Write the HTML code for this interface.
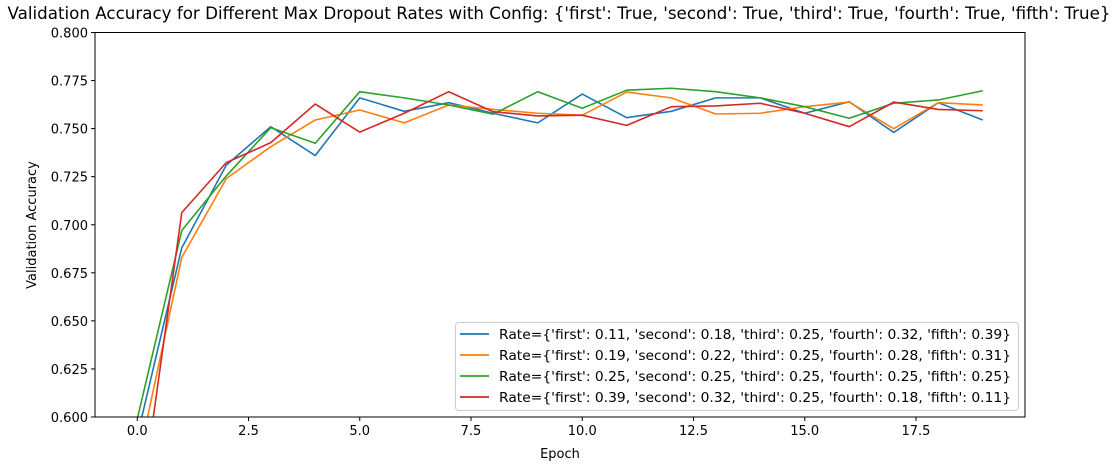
<!DOCTYPE html>
<html><head><meta charset="utf-8"><style>
html,body{margin:0;padding:0;background:#fff;width:1119px;height:470px;overflow:hidden;}
svg{display:block;font-family:"DejaVu Sans","Liberation Sans",sans-serif;}
</style></head><body>
<svg id="chart" width="1119" height="470" viewBox="0 0 1119 470" xmlns="http://www.w3.org/2000/svg"></svg>
<script>
const epochs = [0,1,2,3,4,5,6,7,8,9,10,11,12,13,14,15,16,17,18,19];
const seriesBlue = [0.590,0.688,0.731,0.751,0.736,0.766,0.759,0.7635,0.758,0.753,0.768,0.7557,0.759,0.766,0.766,0.758,0.764,0.748,0.7635,0.7545];
const seriesOrange = [0.575,0.683,0.724,0.7406,0.7545,0.7597,0.753,0.7623,0.760,0.758,0.757,0.769,0.766,0.7576,0.758,0.7614,0.7638,0.750,0.7635,0.7623];
const seriesGreen = [0.599,0.697,0.7254,0.7505,0.7424,0.7692,0.766,0.7623,0.7575,0.7692,0.7606,0.770,0.771,0.7692,0.766,0.7614,0.7554,0.7632,0.7649,0.7697];
const seriesRed = [0.540,0.7063,0.7323,0.7427,0.7628,0.7482,0.758,0.7692,0.7588,0.7566,0.757,0.7517,0.7614,0.7618,0.7632,0.758,0.751,0.7638,0.760,0.7593];
const xTicks = [0,2.5,5,7.5,10,12.5,15,17.5];
const xTickLabels = ["0.0","2.5","5.0","7.5","10.0","12.5","15.0","17.5"];
const yTicks = [0.6,0.625,0.65,0.675,0.7,0.725,0.75,0.775,0.8];
const yTickLabels = ["0.600","0.625","0.650","0.675","0.700","0.725","0.750","0.775","0.800"];
const legendLabels = [
"Rate={'first': 0.11, 'second': 0.18, 'third': 0.25, 'fourth': 0.32, 'fifth': 0.39}",
"Rate={'first': 0.19, 'second': 0.22, 'third': 0.25, 'fourth': 0.28, 'fifth': 0.31}",
"Rate={'first': 0.25, 'second': 0.25, 'third': 0.25, 'fourth': 0.25, 'fifth': 0.25}",
"Rate={'first': 0.39, 'second': 0.32, 'third': 0.25, 'fourth': 0.18, 'fifth': 0.11}"];
const colors = ["#1f77b4","#ff7f0e","#2ca02c","#d62728"];
const allSeries = [seriesBlue,seriesOrange,seriesGreen,seriesRed];
const NS="http://www.w3.org/2000/svg";
const svg=document.getElementById('chart');
const L=95,R=1025,T=32.5,B=417;
const xMin=-0.95,xMax=19.95,yMin=0.6,yMax=0.8;
function sx(v){return L+(v-xMin)/(xMax-xMin)*(R-L);}
function sy(v){return B-(v-yMin)/(yMax-yMin)*(B-T);}
function mk(tag,attrs,parent){const e=document.createElementNS(NS,tag);for(const k in attrs)e.setAttribute(k,attrs[k]);(parent||svg).appendChild(e);return e;}
const defs=mk('defs',{});const cp=mk('clipPath',{id:'clip'},defs);mk('rect',{x:L,y:T,width:R-L,height:B-T},cp);
const title=mk('text',{x:559,y:19,'text-anchor':'middle','font-size':'16.5',textLength:'1103',lengthAdjust:'spacingAndGlyphs'});


title.textContent="Validation Accuracy for Different Max Dropout Rates with Config: {'first': True, 'second': True, 'third': True, 'fourth': True, 'fifth': True}";
const g=mk('g',{'clip-path':'url(#clip)'});
allSeries.forEach((s,i)=>{
 const pts=s.map((v,j)=>sx(epochs[j]).toFixed(2)+','+sy(v).toFixed(2)).join(' ');
 const p=mk('polyline',{points:pts,fill:'none',stroke:colors[i],'stroke-width':'1.6','stroke-linejoin':'round'},g);
 
 
});
mk('rect',{x:L,y:T,width:R-L,height:B-T,fill:'none',stroke:'#000','stroke-width':'1'});
xTicks.forEach((t,i)=>{
 const x=sx(t);
 mk('line',{x1:x,x2:x,y1:B,y2:B+4,stroke:'#000'});
 const tx=mk('text',{x:x,y:B+18,'text-anchor':'middle','font-size':'13'});
 
 
 tx.textContent=xTickLabels[i];
});
yTicks.forEach((t,i)=>{
 const y=sy(t);
 mk('line',{x1:L-4,x2:L,y1:y,y2:y,stroke:'#000'});
 const tx=mk('text',{x:L-7,y:y+5,'text-anchor':'end','font-size':'13'});
 
 
 tx.textContent=yTickLabels[i];
});
const xt=mk('text',{x:560,y:458,'text-anchor':'middle','font-size':'13'});


xt.textContent='Epoch';
const yt=mk('text',{x:0,y:0,'text-anchor':'middle','font-size':'13',transform:'translate(36,225) rotate(-90)'});


yt.textContent='Validation Accuracy';
const lg=mk('g',{});


mk('rect',{x:455.5,y:322.5,width:563,height:88,rx:3,fill:'#fff','fill-opacity':'0.8',stroke:'#ccc'},lg);
legendLabels.forEach((lab,i)=>{
 const y=334+i*21;
 const e=mk('g',{},lg);
 
 
 mk('line',{x1:460,x2:489,y1:y,y2:y,stroke:colors[i],'stroke-width':'1.8'},e);
 const t=mk('text',{x:499,y:y+5,'font-size':'13',textLength:'512',lengthAdjust:'spacingAndGlyphs'},e);
 t.textContent=lab;
});
</script>
</body></html>
